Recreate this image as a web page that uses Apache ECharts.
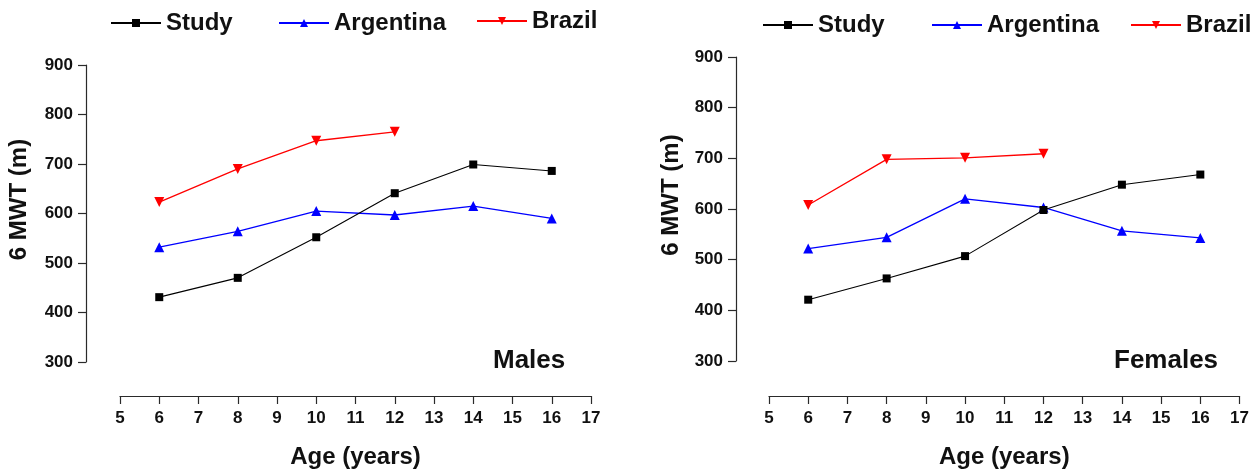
<!DOCTYPE html>
<html><head><meta charset="utf-8">
<script src="https://cdn.jsdelivr.net/npm/echarts@6/dist/echarts.min.js"></script>
<style>html,body{margin:0;padding:0;background:#fff}#c{width:1252px;height:474px}</style>
</head><body><div id="c"></div>
<script>
const ages = [6, 8, 10, 12, 14, 16];
const brazilAges = [6, 8, 10, 12];
const maleStudy = [431, 470, 552, 641, 699, 686];
const maleArgentina = [532, 564, 605, 597, 615, 590];
const maleBrazil = [623, 690, 747, 765];
const femaleStudy = [421, 463, 507, 598, 648, 668];
const femaleArgentina = [522, 544, 620, 603, 557, 543];
const femaleBrazil = [608, 698, 701, 709];
const seriesNames = ['Study', 'Argentina', 'Brazil'];
const xTicks = {min: 5, max: 17, interval: 1};
const yTicks = {min: 300, max: 900, interval: 100};
const panelLabels = ['Males', 'Females'];
const xTitle = 'Age (years)';
const yTitle = '6 MWT (m)';

const FONT = '"Liberation Sans", Arial, sans-serif';
const AX = '#2a2a2a';
function pairs(xs, ys) { return xs.map((x, i) => [x, ys[i]]); }

function xAxisCfg(gi, off) {
  return {
    type: 'value', gridIndex: gi, min: xTicks.min, max: xTicks.max, interval: xTicks.interval,
    offset: off,
    name: xTitle, nameLocation: 'middle', nameGap: 49,
    nameTextStyle: {fontFamily: FONT, fontWeight: 'bold', fontSize: 24, color: '#111'},
    axisLine: {show: true, onZero: false, lineStyle: {color: AX, width: 1.2}},
    axisTick: {show: true, inside: false, length: 8, lineStyle: {color: AX, width: 1.2}},
    axisLabel: {margin: 14, fontFamily: FONT, fontWeight: 'bold', fontSize: 17, color: '#111'},
    splitLine: {show: false}
  };
}
function yAxisCfg(gi, off, gap) {
  return {
    type: 'value', gridIndex: gi, min: yTicks.min, max: yTicks.max, interval: yTicks.interval,
    offset: off,
    name: yTitle, nameLocation: 'middle', nameGap: gap,
    nameTextStyle: {fontFamily: FONT, fontWeight: 'bold', fontSize: 24, color: '#111', padding: [0, 0, 0, 28]},
    axisLine: {show: true, onZero: false, lineStyle: {color: AX, width: 1.2}},
    axisTick: {show: true, inside: false, length: 8, lineStyle: {color: AX, width: 1.2}},
    axisLabel: {margin: 13, fontFamily: FONT, fontWeight: 'bold', fontSize: 17, color: '#111'},
    splitLine: {show: false}
  };
}
const styles = {
  Study: {color: '#000', symbol: 'rect', symbolSize: 8, symbolRotate: 0, width: 1.1},
  Argentina: {color: '#0000ff', symbol: 'triangle', symbolSize: 10, symbolRotate: 0, width: 1.3},
  Brazil: {color: '#ff0000', symbol: 'triangle', symbolSize: 10, symbolRotate: 180, width: 1.3}
};
function lineSeries(name, gi, data) {
  const s = styles[name];
  return {
    name: name, type: 'line', xAxisIndex: gi, yAxisIndex: gi, data: data,
    symbol: s.symbol, symbolSize: s.symbolSize, symbolRotate: s.symbolRotate, showAllSymbol: true,
    lineStyle: {color: s.color, width: s.width},
    itemStyle: {color: s.color, borderWidth: 0},
    animation: false, z: name === 'Study' ? 3 : 2
  };
}
function legendItem(name, left, top) {
  return {
    data: [name], left: left, top: top, itemWidth: 50, itemHeight: 10, padding: 0,
    selectedMode: false,
    textStyle: {fontFamily: FONT, fontWeight: 'bold', fontSize: 24, color: '#111'}
  };
}

const chart = echarts.init(document.getElementById('c'), null, {renderer: 'canvas'});
chart.setOption({
  backgroundColor: '#fff',
  animation: false,
  legend: [
    legendItem('Study', 110, 11), legendItem('Argentina', 278, 11), legendItem('Brazil', 476, 9),
    legendItem('Study', 762, 13), legendItem('Argentina', 931, 13), legendItem('Brazil', 1130, 13)
  ],
  grid: [
    {left: 120, right: 661, top: 65, bottom: 107},
    {left: 769, right: 10, top: 57, bottom: 108}
  ],
  xAxis: [xAxisCfg(0, 34), xAxisCfg(1, 35)],
  yAxis: [yAxisCfg(0, 34, 55), yAxisCfg(1, 33, 53)],
  graphic: [
    {type: 'text', left: 493, top: 348, style: {text: panelLabels[0], font: 'bold 26px ' + FONT, fill: '#111'}},
    {type: 'text', left: 1114, top: 348, style: {text: panelLabels[1], font: 'bold 26px ' + FONT, fill: '#111'}}
  ],
  series: [
    lineSeries('Study', 0, pairs(ages, maleStudy)),
    lineSeries('Argentina', 0, pairs(ages, maleArgentina)),
    lineSeries('Brazil', 0, pairs(brazilAges, maleBrazil)),
    lineSeries('Study', 1, pairs(ages, femaleStudy)),
    lineSeries('Argentina', 1, pairs(ages, femaleArgentina)),
    lineSeries('Brazil', 1, pairs(brazilAges, femaleBrazil))
  ]
});
</script></body></html>
